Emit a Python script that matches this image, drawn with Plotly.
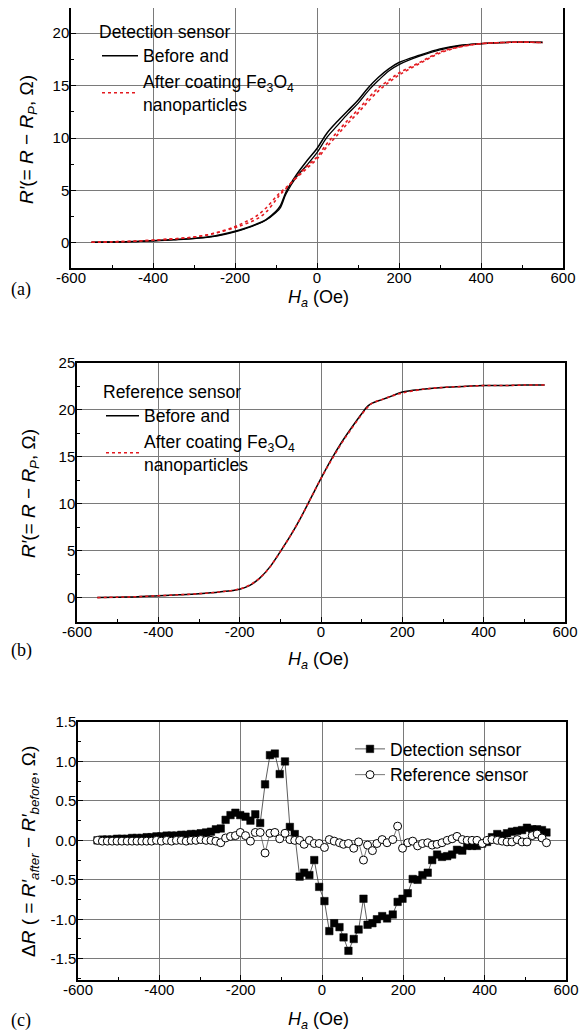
import plotly.graph_objects as go

# ---------------- Panel (a): detection sensor ----------------
H_a = [-550, -500, -450, -400, -350, -300, -250, -200, -175, -150, -125, -100, -90, -75, -50, -25,
       0, 25, 50, 75, 100, 125, 150, 175, 200, 250, 300, 350, 400, 450, 500, 550]
det_before_up = [0.05, 0.08, 0.12, 0.2, 0.3, 0.42, 0.65, 1.1, 1.4, 1.75, 2.2, 3.0, 3.5, 4.9, 6.5, 7.8,
                 9.0, 10.5, 11.6, 12.6, 13.6, 14.8, 15.8, 16.6, 17.2, 17.9, 18.5, 18.85, 19.0, 19.1, 19.15, 19.1]
det_before_down = [0.05, 0.08, 0.12, 0.2, 0.3, 0.42, 0.62, 1.05, 1.35, 1.7, 2.15, 2.9, 3.3, 4.7, 6.3, 7.4,
                   8.6, 10.1, 11.2, 12.3, 13.3, 14.5, 15.5, 16.4, 17.0, 17.8, 18.4, 18.8, 19.0, 19.1, 19.15, 19.15]
det_after_up = [0.05, 0.1, 0.15, 0.25, 0.38, 0.55, 0.9, 1.45, 1.8, 2.2, 2.9, 4.1, 4.6, 5.2, 6.3, 7.3,
                8.2, 9.5, 10.6, 11.7, 12.7, 13.8, 14.8, 15.5, 16.2, 17.2, 18.2, 18.7, 19.0, 19.1, 19.15, 19.1]
det_after_down = [0.05, 0.1, 0.15, 0.25, 0.38, 0.55, 0.92, 1.55, 2.0, 2.5, 3.3, 4.4, 4.8, 5.3, 6.2, 7.1,
                  8.0, 9.2, 10.3, 11.4, 12.4, 13.5, 14.5, 15.3, 16.0, 17.1, 18.1, 18.7, 19.0, 19.1, 19.15, 19.1]

# ---------------- Panel (b): reference sensor ----------------
H_b = [-550, -500, -450, -400, -350, -300, -250, -200, -175, -150, -125, -100, -75, -50, -25, 0,
       25, 50, 75, 100, 115, 125, 150, 175, 200, 250, 300, 350, 400, 450, 500, 550]
ref_before = [0.0, 0.05, 0.1, 0.2, 0.3, 0.42, 0.6, 0.9, 1.3, 2.1, 3.3, 4.9, 6.6, 8.5, 10.6, 12.7,
              14.7, 16.5, 18.1, 19.6, 20.4, 20.7, 21.1, 21.5, 21.9, 22.2, 22.4, 22.5, 22.6, 22.6, 22.65, 22.65]
ref_after = [0.0, 0.05, 0.1, 0.2, 0.3, 0.42, 0.6, 0.92, 1.35, 2.1, 3.3, 4.9, 6.6, 8.5, 10.6, 12.7,
             14.6, 16.4, 18.0, 19.5, 20.3, 20.7, 21.1, 21.5, 21.8, 22.2, 22.4, 22.5, 22.6, 22.6, 22.65, 22.65]

# ---------------- Panel (c): difference ----------------
H_c = [-552, -540, -528, -516, -504, -492, -479, -467, -455, -443,
       -431, -419, -407, -395, -382, -370, -358, -346, -334, -322,
       -310, -298, -285, -273, -261, -249, -237, -225, -213, -201,
       -188, -176, -164, -152, -140, -128, -116, -104, -91, -79,
       -67, -55, -44, -31, -19, -7, 6, 18, 30, 43,
       53, 65, 78, 90, 102, 112, 124, 135, 148, 160,
       174, 186, 198, 211, 223, 235, 247, 260, 271, 283,
       295, 308, 320, 332, 345, 357, 369, 381, 394, 406,
       418, 431, 443, 455, 467, 480, 492, 504, 517, 529,
       541, 552]
dR_detection = [0.00, 0.01, 0.01, 0.01, 0.02, 0.02, 0.02, 0.03, 0.03, 0.03,
                0.04, 0.04, 0.05, 0.05, 0.06, 0.06, 0.06, 0.07, 0.07, 0.08,
                0.08, 0.09, 0.10, 0.11, 0.14, 0.15, 0.26, 0.32, 0.35, 0.32,
                0.30, 0.25, 0.33, 0.22, 0.71, 1.08, 1.10, 0.84, 1.00, 0.17,
                0.08, -0.46, -0.41, -0.44, -0.25, -0.59, -0.77, -1.15, -1.05, -1.10,
                -1.23, -1.40, -1.25, -1.13, -0.74, -1.07, -1.05, -1.00, -0.96, -0.99,
                -0.94, -0.78, -0.74, -0.67, -0.49, -0.50, -0.44, -0.41, -0.25, -0.18,
                -0.21, -0.20, -0.18, -0.12, -0.13, -0.07, -0.07, -0.07, -0.04, -0.02,
                0.04, 0.08, 0.06, 0.09, 0.11, 0.12, 0.13, 0.16, 0.14, 0.14,
                0.13, 0.10]
dR_reference = [0.00, -0.01, -0.01, -0.01, -0.01, -0.01, -0.01, -0.01, -0.01, -0.01,
                -0.01, -0.01, 0.00, -0.01, 0.00, -0.01, 0.00, 0.00, -0.01, 0.00,
                0.00, 0.01, 0.00, 0.00, -0.01, -0.03, 0.03, 0.05, 0.06, 0.10,
                0.06, -0.01, 0.10, 0.10, -0.16, 0.09, 0.10, 0.02, 0.09, 0.01,
                0.00, 0.00, -0.05, 0.00, -0.04, -0.04, -0.09, 0.01, -0.01, -0.03,
                -0.05, -0.04, -0.10, -0.02, -0.25, -0.06, -0.13, -0.04, 0.01, -0.03,
                0.01, 0.18, -0.10, -0.03, -0.01, -0.07, -0.04, -0.03, -0.06, -0.05,
                -0.03, 0.00, 0.02, 0.05, 0.01, 0.00, 0.00, 0.00, -0.04, 0.00,
                0.01, 0.00, -0.01, -0.02, -0.02, 0.01, -0.02, -0.02, 0.06, 0.08,
                0.03, -0.03]

x_ticks = [-600, -400, -200, 0, 200, 400, 600]
x_labels = ["-600", "-400", "-200", "0", "200", "400", "600"]
y_ticks_ab = [0, 5, 10, 15, 20]
y_labels_a = ["0", "5", "10", "15", "20"]
y_ticks_b = [0, 5, 10, 15, 20, 25]
y_labels_b = ["0", "5", "10", "15", "20", "25"]
y_ticks_c = [-1.5, -1.0, -0.5, 0.0, 0.5, 1.0, 1.5]
y_labels_c = ["-1.5", "-1.0", "-0.5", "0.0", "0.5", "1.0", "1.5"]

RED = "#e3191f"
SANS = "Liberation Sans, Arial, sans-serif"
SERIF = "Liberation Serif, Times New Roman, serif"
OFF = 8                      # page body margin
W, HT = 588 - OFF, 1035 - OFF

fig = go.Figure()

# panel a
fig.add_trace(go.Scatter(x=H_a, y=det_before_up, mode="lines", line=dict(color="black", width=1.5, shape="spline"),
                         name="Before and", legend="legend", xaxis="x", yaxis="y"))
fig.add_trace(go.Scatter(x=H_a, y=det_before_down, mode="lines", line=dict(color="black", width=1.3, shape="spline"),
                         showlegend=False, xaxis="x", yaxis="y"))
fig.add_trace(go.Scatter(x=H_a, y=det_after_up, mode="lines", line=dict(color=RED, width=1.6, dash="dot", shape="spline"),
                         name="After coating Fe<sub>3</sub>O<sub>4</sub><br>nanoparticles", legend="legend", xaxis="x", yaxis="y"))
fig.add_trace(go.Scatter(x=H_a, y=det_after_down, mode="lines", line=dict(color=RED, width=1.6, dash="dot", shape="spline"),
                         showlegend=False, xaxis="x", yaxis="y"))

# panel b
fig.add_trace(go.Scatter(x=H_b, y=ref_before, mode="lines", line=dict(color="black", width=1.5, shape="spline"),
                         name="Before and", legend="legend2", xaxis="x2", yaxis="y2"))
fig.add_trace(go.Scatter(x=H_b, y=ref_after, mode="lines", line=dict(color=RED, width=1.6, dash="dot", shape="spline"),
                         name="After coating Fe<sub>3</sub>O<sub>4</sub><br>nanoparticles", legend="legend2", xaxis="x2", yaxis="y2"))

# panel c
fig.add_trace(go.Scatter(x=H_c, y=dR_detection, mode="lines+markers", name="Detection sensor", legend="legend3",
                         line=dict(color="#333333", width=0.8),
                         marker=dict(symbol="square", size=7.5, color="black", line=dict(color="black", width=0.5)),
                         xaxis="x3", yaxis="y3"))
fig.add_trace(go.Scatter(x=H_c, y=dR_reference, mode="lines+markers", name="Reference sensor", legend="legend3",
                         line=dict(color="#555555", width=0.8),
                         marker=dict(symbol="circle", size=8, color="white", line=dict(color="black", width=1)),
                         xaxis="x3", yaxis="y3"))


def px_x(p):
    return (p - OFF) / W


def px_y(p):
    return 1 - (p - OFF) / HT


TICKFONT = dict(family=SANS, size=15, color="black")
GRID = "#7a7a7a"


def xaxis(dom, anchor):
    return dict(domain=[px_x(dom[0]), px_x(dom[1])], anchor=anchor, range=[-600, 600],
                tickmode="array", tickvals=x_ticks, ticktext=x_labels, automargin=False,
                showline=True, linecolor="black", linewidth=1.5, mirror=True,
                ticks="inside", ticklen=5, tickcolor="black", tickwidth=1, ticklabelstandoff=-5,
                showgrid=True, gridcolor=GRID, gridwidth=1, zeroline=False,
                minor=dict(ticks="inside", ticklen=3, tickcolor="black", dtick=100, showgrid=False),
                tickfont=TICKFONT, fixedrange=True)


def yaxis(top, bottom, anchor, rng, tv, tt, mdtick):
    return dict(domain=[px_y(bottom), px_y(top)], anchor=anchor, range=rng,
                tickmode="array", tickvals=tv, ticktext=tt, automargin=False,
                showline=True, linecolor="black", linewidth=1.5, mirror=True,
                ticks="inside", ticklen=5, tickcolor="black", tickwidth=1, ticklabelstandoff=-3,
                showgrid=True, gridcolor=GRID, gridwidth=1, zeroline=False,
                minor=dict(ticks="inside", ticklen=3, tickcolor="black", dtick=mdtick, tick0=0, showgrid=False),
                tickfont=TICKFONT, fixedrange=True)


legend_font = dict(family=SANS, size=17.5, color="black")

fig.update_layout(
    template="none",
    width=W, height=HT, margin=dict(l=0, r=0, t=0, b=0, autoexpand=False),
    paper_bgcolor="white", plot_bgcolor="white",
    xaxis=xaxis((71, 563), "y"),
    yaxis=yaxis(8, 268, "x", [-2.4, 22.4], y_ticks_ab, y_labels_a, 2.5),
    xaxis2=xaxis((77, 565), "y2"),
    yaxis2=yaxis(363, 622, "x2", [-2.6, 25], y_ticks_b, y_labels_b, 2.5),
    xaxis3=xaxis((78, 566), "y3"),
    yaxis3=yaxis(722, 980, "x3", [-1.77, 1.5], y_ticks_c, y_labels_c, 0.25),
    legend=dict(x=px_x(97), y=px_y(15), xanchor="left", yanchor="top", bgcolor="rgba(0,0,0,0)",
                font=legend_font, itemwidth=36, title=dict(text="Detection sensor", font=legend_font), tracegroupgap=0),
    legend2=dict(x=px_x(101), y=px_y(375), xanchor="left", yanchor="top", bgcolor="rgba(0,0,0,0)",
                 font=legend_font, itemwidth=33, title=dict(text="Reference sensor", font=legend_font), tracegroupgap=0),
    legend3=dict(x=px_x(350), y=px_y(731), xanchor="left", yanchor="top", bgcolor="rgba(0,0,0,0)",
                 font=legend_font, tracegroupgap=0),
)

ann = []
# x-axis titles
for yc in (298, 660, 1020):
    ann.append(dict(text="<i>H<sub>a</sub></i> (Oe)", x=px_x(318), y=px_y(yc), xref="paper", yref="paper",
                    showarrow=False, font=dict(family=SANS, size=18, color="black"), xanchor="center", yanchor="middle"))
# panel letters
for lab, yc in (("(a)", 289), ("(b)", 650), ("(c)", 1020)):
    ann.append(dict(text=lab, x=px_x(9), y=px_y(yc), xref="paper", yref="paper", showarrow=False,
                    font=dict(family=SERIF, size=18, color="black"), xanchor="left", yanchor="middle"))
# y-axis titles
ytitle_ab = "<i>R′</i>(= <i>R</i> − <i>R<sub>P</sub></i>, Ω)"
ann.append(dict(text=ytitle_ab, x=px_x(28), y=px_y(140), xref="paper", yref="paper", showarrow=False,
                textangle=-90, font=dict(family=SANS, size=19, color="black"), xanchor="center", yanchor="middle"))
ann.append(dict(text=ytitle_ab, x=px_x(30), y=px_y(494), xref="paper", yref="paper", showarrow=False,
                textangle=-90, font=dict(family=SANS, size=19, color="black"), xanchor="center", yanchor="middle"))
ytitle_c = "Δ<i>R</i> ( = <i>R′<sub>after</sub></i> − <i>R′<sub>before</sub></i>, Ω)"
ann.append(dict(text=ytitle_c, x=px_x(30), y=px_y(852), xref="paper", yref="paper", showarrow=False,
                textangle=-90, font=dict(family=SANS, size=19, color="black"), xanchor="center", yanchor="middle"))
fig.update_layout(annotations=ann)

fig.write_html("out.html")
